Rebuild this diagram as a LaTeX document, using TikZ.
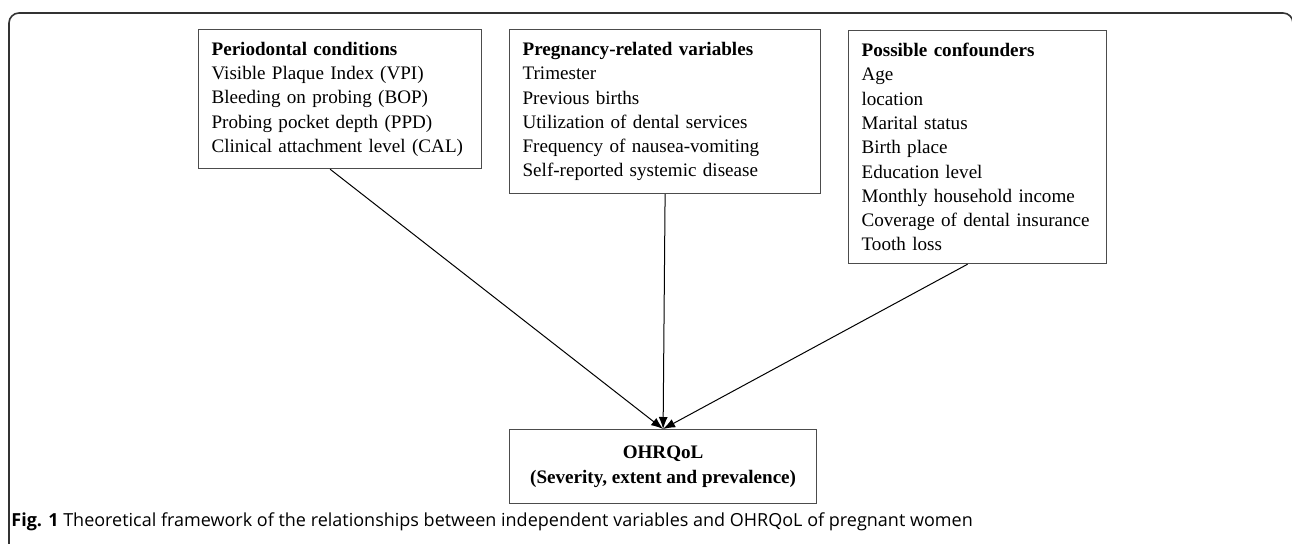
\documentclass[tikz,border=0pt]{standalone}
\usepackage{fontspec}
\setmainfont{Liberation Serif}
\newfontfamily\capfont{Open Sans}
\usetikzlibrary{arrows.meta,positioning,calc}

\begin{document}
\begin{tikzpicture}[x=0.5pt,y=-0.5pt,
    varbox/.style={draw=black!70, line width=0.6pt, anchor=north west, align=left,
        inner xsep=6.5pt, inner ysep=6pt, font=\fontsize{9.55}{12.15}\selectfont},
    outbox/.style={draw=black!70, line width=0.6pt, anchor=north west, align=center,
        minimum width=153.5pt, minimum height=37pt, font=\fontsize{9.55}{12.4}\selectfont\bfseries},
    link/.style={-{Latex[length=6pt,width=4.5pt]}, line width=0.5pt}]
    \useasboundingbox (0,0) rectangle (1292,543);

    % Outer frame (open at the bottom)
    \begin{scope}
        \clip (0,0) rectangle (1292,543);
        \draw[line width=0.8pt, black!80, rounded corners=5pt] (9,580) -- (9,13) -- (1293,13) -- (1293,580);
    \end{scope}

    % Periodontal conditions
    \node[varbox, text width=128.5pt, minimum height=69.5pt] (perio) at (198,29)
        {\textbf{Periodontal conditions}\\
         Visible Plaque Index (VPI)\\
         Bleeding on probing (BOP)\\
         Probing pocket depth (PPD)\\
         Clinical attachment level (CAL)};

    % Pregnancy-related variables
    \node[varbox, text width=142.5pt, minimum height=82pt] (preg) at (509,29)
        {\textbf{Pregnancy-related variables}\\
         Trimester\\
         Previous births\\
         Utilization of dental services\\
         Frequency of nausea-vomiting\\
         Self-reported systemic disease};

    % Possible confounders
    \node[varbox, text width=116pt, minimum height=116.5pt] (conf) at (848,30)
        {\textbf{Possible confounders}\\
         Age\\
         location\\
         Marital status\\
         Birth place\\
         Education level\\
         Monthly household income\\
         Coverage of dental insurance\\
         Tooth loss};

    % Outcome
    \node[outbox] (ohrqol) at (509,429) {OHRQoL\\(Severity, extent and prevalence)};

    % Arrows to the outcome
    \draw[link] ([xshift=-5pt]perio.south) -- (ohrqol.north);
    \draw[link] (preg.south) -- (ohrqol.north);
    \draw[link] ([xshift=-5pt]conf.south) -- (ohrqol.north);

    % Caption
    \node[anchor=base west, inner sep=0pt, font=\capfont\fontsize{9}{11}\selectfont] (caption) at (11,526)
        {\textbf{Fig. 1} Theoretical framework of the relationships between independent variables and OHRQoL of pregnant women};
\end{tikzpicture}
\end{document}
